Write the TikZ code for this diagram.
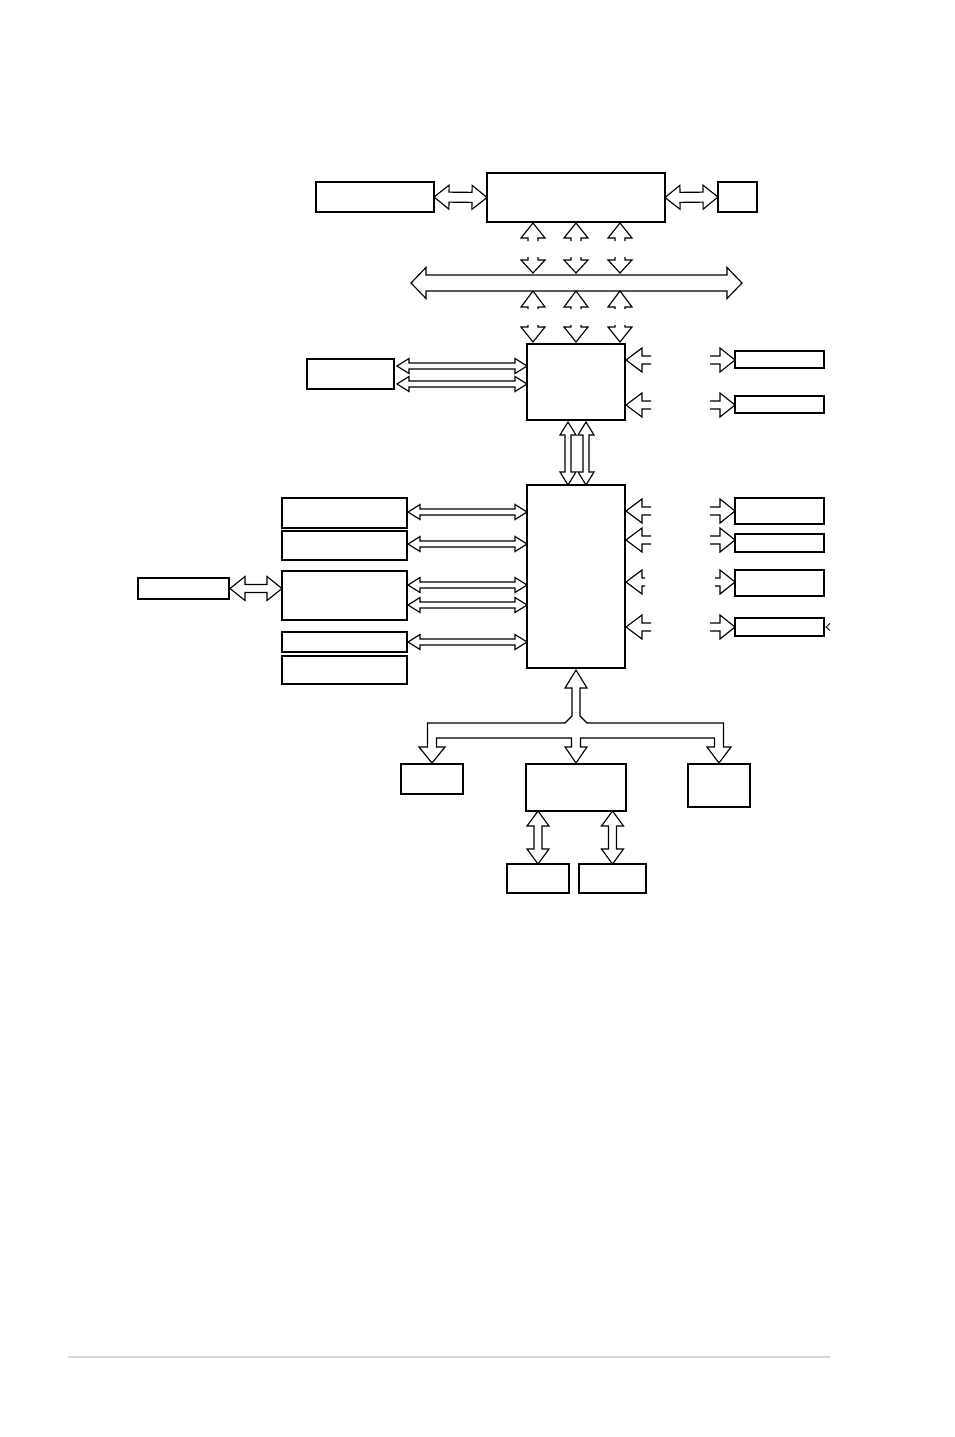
\documentclass[tikz,border=0pt]{standalone}
\usetikzlibrary{calc}

\begin{document}
\begin{tikzpicture}[x=1pt,y=-1pt,
  box/.style={draw, line width=1.2pt, inner sep=0pt, outer sep=0pt, anchor=north west},
  heavybox/.style={box, line width=2.3pt},
  hollow/.style={draw, line width=1.15pt, fill=white, line join=miter}]
  % double block arrow: #1 from, #2 to, #3 shaft, #4 head, #5 head length
  \newcommand{\dblarrow}[5]{
    \draw[hollow] (#1)
      -- ($(#1)!#5!(#2)!#4!90:(#2)$) -- ($(#1)!#5!(#2)!#3!90:(#2)$)
      -- ($(#2)!#5!(#1)!#3!-90:(#1)$) -- ($(#2)!#5!(#1)!#4!-90:(#1)$)
      -- (#2)
      -- ($(#2)!#5!(#1)!#4!90:(#1)$) -- ($(#2)!#5!(#1)!#3!90:(#1)$)
      -- ($(#1)!#5!(#2)!#3!-90:(#2)$) -- ($(#1)!#5!(#2)!#4!-90:(#2)$)
      -- cycle;
  }
  % open arrow head with a short stub: #1 tip, #2 towards, #6 stub length
  \newcommand{\headstub}[6]{
    \draw[hollow, fill=none] ($(#1)!#6!(#2)!#3!90:(#2)$) -- ($(#1)!#5!(#2)!#3!90:(#2)$)
      -- ($(#1)!#5!(#2)!#4!90:(#2)$) -- (#1) -- ($(#1)!#5!(#2)!#4!-90:(#2)$)
      -- ($(#1)!#5!(#2)!#3!-90:(#2)$) -- ($(#1)!#6!(#2)!#3!-90:(#2)$);
  }
  \useasboundingbox (0,0) rectangle (954,1437);

  % top row
  \node[box, minimum width=118pt, minimum height=30pt] (cache) at (316,182) {};
  \node[box, minimum width=178pt, minimum height=49pt] (cpu) at (487,173) {};
  \node[box, minimum width=39pt, minimum height=30pt] (clk) at (718,182) {};
  \dblarrow{cache.east}{cpu.west}{5pt}{12pt}{15pt}
  \dblarrow{cpu.east}{clk.west}{5pt}{12pt}{15pt}

  % front side bus
  \coordinate (busL) at (411,283);
  \coordinate (busR) at (742,283);
  \dblarrow{busL}{busR}{8pt}{15.5pt}{15pt}

  % north bridge
  \node[box, minimum width=98pt, minimum height=76pt] (nb) at (527,344) {};
  \node[heavybox, minimum width=87pt, minimum height=30pt] (dimm) at (307,359) {};
  \node[box, minimum width=89pt, minimum height=17pt] (agp) at (735,351) {};
  \node[box, minimum width=89pt, minimum height=17pt] (vid) at (735,396) {};

  \foreach \dx in {-43,0,44} {
    \coordinate (t) at ($(cpu.south)+(\dx,1)$);
    \coordinate (u) at ($(t)+(0,50)$);
    \headstub{t}{u}{5pt}{12pt}{15pt}{18pt}
    \coordinate (t) at ($(busL -| u)+(0,-10)$);
    \coordinate (u) at ($(t)+(0,-50)$);
    \headstub{t}{u}{5pt}{12pt}{13pt}{16pt}
    \coordinate (t) at ($(busL -| t)+(0,8)$);
    \coordinate (u) at ($(t)+(0,50)$);
    \headstub{t}{u}{5pt}{12pt}{16pt}{18pt}
    \coordinate (t) at ($(nb.north)+(\dx,-2)$);
    \coordinate (u) at ($(t)+(0,-50)$);
    \headstub{t}{u}{5pt}{12pt}{15pt}{17pt}
  }

  \foreach \dy in {-8,10} {
    \coordinate (m) at ($(dimm.east)+(3,\dy)$);
    \coordinate (n) at (m -| nb.west);
    \dblarrow{m}{n}{3pt}{7.5pt}{12pt}
  }

  \foreach \dst/\dy in {agp/0.5, vid/0.5} {
    \coordinate (c) at ($(\dst.west)+(0,\dy)$);
    \coordinate (e) at ($(c -| nb.east)+(1,0)$);
    \headstub{e}{c}{4pt}{12pt}{16pt}{25pt}
    \headstub{c}{e}{4pt}{12pt}{15pt}{25pt}
  }

  % south bridge
  \node[box, minimum width=98pt, minimum height=183pt] (sb) at (527,485) {};
  \foreach \dx in {-8,10} {
    \coordinate (v) at ($(nb.south)+(\dx,2)$);
    \coordinate (w) at (v |- sb.north);
    \dblarrow{v}{w}{3pt}{8pt}{13pt}
  }

  \node[heavybox, minimum width=125pt, minimum height=30pt] (ide) at (282,498) {};
  \node[heavybox, minimum width=125pt, minimum height=29pt] (sata) at (282,531) {};
  \node[heavybox, minimum width=125pt, minimum height=49pt] (lpc) at (282,571) {};
  \node[heavybox, minimum width=125pt, minimum height=20pt] (usb) at (282,632) {};
  \node[heavybox, minimum width=125pt, minimum height=28pt] (bios) at (282,656) {};
  \node[heavybox, minimum width=91pt, minimum height=21pt] (io) at (138,578) {};

  \foreach \src/\dy in {ide/-1, sata/-1.5, lpc/-10.5, lpc/9.5, usb/0} {
    \coordinate (a) at ($(\src.east)+(1,\dy)$);
    \coordinate (b) at (a -| sb.west);
    \dblarrow{a}{b}{3pt}{7.5pt}{12pt}
  }
  \coordinate (f) at ($(io.east)+(1,0)$);
  \coordinate (g) at (f -| lpc.west);
  \dblarrow{f}{g}{4pt}{12pt}{15pt}

  \node[box, minimum width=89pt, minimum height=26pt] (pci) at (735,498) {};
  \node[box, minimum width=89pt, minimum height=18pt] (lan) at (735,534) {};
  \node[box, minimum width=89pt, minimum height=26pt] (aud) at (735,570) {};
  \node[box, minimum width=89pt, minimum height=18pt] (fw) at (735,618) {};

  \foreach \dst/\dy/\la/\lb in {pci/0/25pt/25pt, lan/-3/25pt/25pt, aud/-1/19pt/20pt, fw/0/25pt/25pt} {
    \coordinate (c) at ($(\dst.west)+(0,\dy)$);
    \coordinate (e) at ($(c -| sb.east)+(1,0)$);
    \headstub{e}{c}{4pt}{12pt}{16pt}{\la}
    \headstub{c}{e}{4pt}{12pt}{15pt}{\lb}
  }
  \draw[line width=0.8pt] ($(fw.east)+(6,-3.5)$) -- ++(-4,3.5) -- ++(4,3.5);

  % PCI tree
  \node[box, minimum width=62pt, minimum height=30pt] (s1) at (401,764) {};
  \node[box, minimum width=100pt, minimum height=47pt] (s2) at (526,764) {};
  \node[box, minimum width=62pt, minimum height=43pt] (s3) at (688,764) {};
  \draw[hollow] let \p1=(sb.south), \p2=(s1.north), \p3=(s2.north), \p4=(s3.north) in
    (\x1,\y1-2pt) -- (\x1+11pt,\y1-20pt) -- (\x1+4pt,\y1-20pt) -- (\x1+4pt,\y1-48pt)
    -- (\x1+11pt,\y1-55pt) -- (\x4+4.5pt,\y1-55pt) -- (\x4+4.5pt,\y4+17pt)
    -- (\x4+12pt,\y4+17pt) -- (\x4,\y4+1pt) -- (\x4-12pt,\y4+17pt) -- (\x4-4.5pt,\y4+17pt)
    -- (\x4-4.5pt,\y1-70pt) -- (\x3+4.5pt,\y1-70pt) -- (\x3+4.5pt,\y3+17pt)
    -- (\x3+11pt,\y3+17pt) -- (\x3,\y3+1pt) -- (\x3-11pt,\y3+17pt) -- (\x3-4.5pt,\y3+17pt)
    -- (\x3-4.5pt,\y1-70pt) -- (\x2+4.5pt,\y1-70pt) -- (\x2+4.5pt,\y2+17pt)
    -- (\x2+13pt,\y2+17pt) -- (\x2,\y2+1pt) -- (\x2-13pt,\y2+17pt) -- (\x2-4.5pt,\y2+17pt)
    -- (\x2-4.5pt,\y1-55pt) -- (\x1-11pt,\y1-55pt) -- (\x1-4pt,\y1-48pt)
    -- (\x1-4pt,\y1-20pt) -- (\x1-11pt,\y1-20pt) -- cycle;

  \node[box, minimum width=62pt, minimum height=29pt] (d1) at (507,864) {};
  \node[box, minimum width=67pt, minimum height=29pt] (d2) at (579,864) {};
  \coordinate (h1) at (d1.north |- s2.south);
  \coordinate (h2) at (d2.north |- s2.south);
  \dblarrow{h1}{d1.north}{4pt}{11pt}{15pt}
  \dblarrow{h2}{d2.north}{4pt}{11pt}{15pt}

  % page rule
  \draw[gray!30, line width=2.5pt] (68,1357) -- (830,1357);
\end{tikzpicture}
\end{document}
